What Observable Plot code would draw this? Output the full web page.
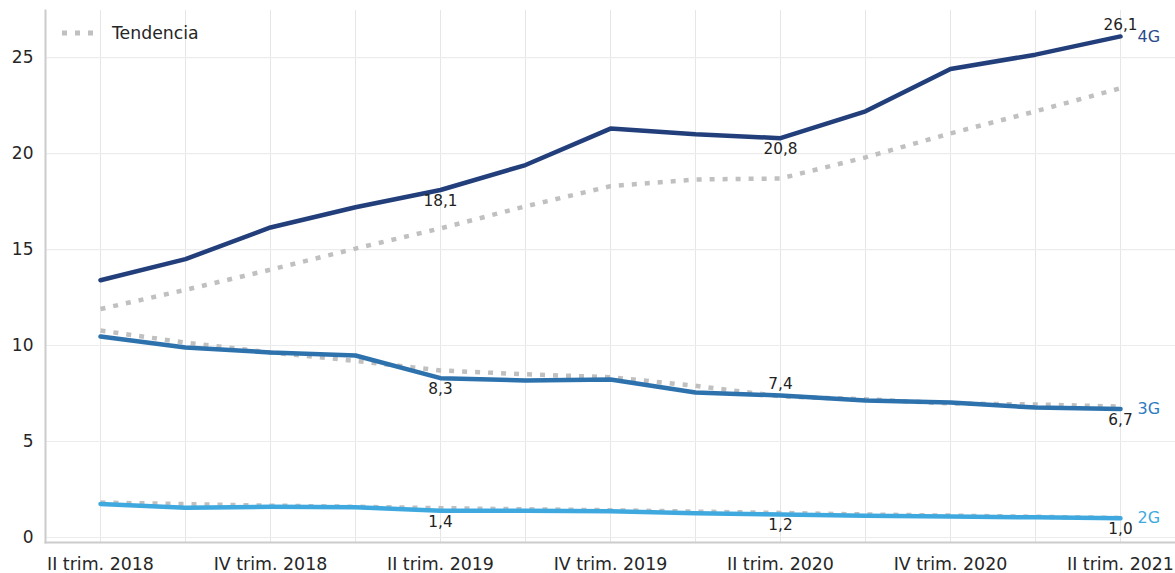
<!DOCTYPE html>
<html>
<head>
<meta charset="utf-8">
<script src="https://cdn.jsdelivr.net/npm/d3@7"></script>
<script src="https://cdn.jsdelivr.net/npm/@observablehq/plot@0.6"></script>
<style>
  html, body { margin: 0; padding: 0; background: #fff; }
  #wrap { position: relative; width: 1175px; height: 573px; font-family: "DejaVu Sans", sans-serif; }
  #legend { position: absolute; left: 62px; top: 23px; display: flex; align-items: center; font-size: 17.3px; color: #262626; }
  #legend svg { margin-right: 14px; }
</style>
</head>
<body>
<div id="wrap">
  <div id="chart"></div>
  <div id="legend"><svg width="36" height="10"><line x1="0" y1="5" x2="36" y2="5" stroke="#c0c0c0" stroke-width="5" stroke-dasharray="5,8"/></svg><span>Tendencia</span></div>
</div>
<script>
const quarters = ["II trim. 2018","III trim. 2018","IV trim. 2018","I trim. 2019","II trim. 2019","III trim. 2019","IV trim. 2019","I trim. 2020","II trim. 2020","III trim. 2020","IV trim. 2020","I trim. 2021","II trim. 2021"];
const tickLabels = ["II trim. 2018","IV trim. 2018","II trim. 2019","IV trim. 2019","II trim. 2020","IV trim. 2020","II trim. 2021"];
const yTicks = [0, 5, 10, 15, 20, 25];

const series = ["4G", "3G", "2G"];
const values4G = [13.4, 14.5, 16.15, 17.2, 18.1, 19.4, 21.3, 21.0, 20.8, 22.2, 24.4, 25.15, 26.1];
const values3G = [10.47, 9.9, 9.64, 9.48, 8.3, 8.18, 8.23, 7.55, 7.4, 7.14, 7.03, 6.77, 6.7];
const values2G = [1.75, 1.55, 1.6, 1.58, 1.4, 1.4, 1.37, 1.27, 1.2, 1.13, 1.1, 1.05, 1.0];
const trend4G = [11.9, 12.9, 13.95, 15.05, 16.1, 17.25, 18.3, 18.65, 18.7, 19.8, 21.05, 22.2, 23.4];
const trend3G = [10.78, 10.15, 9.64, 9.2, 8.7, 8.5, 8.35, 7.9, 7.35, 7.2, 6.98, 6.93, 6.82];
const trend2G = [1.82, 1.74, 1.66, 1.6, 1.53, 1.47, 1.42, 1.35, 1.28, 1.2, 1.14, 1.08, 1.02];
const colors = {"4G": "#223f7b", "3G": "#2e72ad", "2G": "#3fa9df"};
const labelColors = {"4G": "#2b4a8c", "3G": "#2f7bbf", "2G": "#3fa9df"};
const labelIdx = [4, 8, 12];
// annotation side: 1 = below line, -1 = above line
const labelSide = {"4G": [1, 1, -1], "3G": [1, -1, 1], "2G": [1, 1, 1]};

const valuesBy = {"4G": values4G, "3G": values3G, "2G": values2G};
const trendBy = {"4G": trend4G, "3G": trend3G, "2G": trend2G};

const rows = [], trendRows = [], annRows = [], endRows = [];
for (const s of series) {
  quarters.forEach((q, i) => {
    rows.push({s, q, v: valuesBy[s][i]});
    trendRows.push({s, q, v: trendBy[s][i]});
  });
  labelIdx.forEach((i, k) => {
    annRows.push({s, q: quarters[i], v: valuesBy[s][i], side: labelSide[s][k],
      text: valuesBy[s][i].toFixed(1).replace(".", ",")});
  });
  endRows.push({s, q: quarters[quarters.length - 1], v: valuesBy[s][quarters.length - 1]});
}

const chart = Plot.plot({
  width: 1175,
  height: 573,
  marginLeft: 45,
  marginRight: 0,
  marginTop: 10,
  marginBottom: 31,
  style: {fontFamily: "DejaVu Sans, sans-serif", fontSize: "17px", color: "#262626", background: "#fff"},
  x: {type: "point", domain: quarters, padding: 0.615, label: null},
  y: {domain: [-0.26, 27.45], label: null},
  marks: [
    Plot.gridX(quarters, {stroke: "#e6e6e6", strokeOpacity: 1, strokeWidth: 1}),
    Plot.gridY(yTicks, {stroke: "#ececec", strokeOpacity: 1, strokeWidth: 1.2}),
    Plot.axisX(tickLabels, {tickSize: 0, tickPadding: 15, fontSize: 17.4, fill: "#262626", label: null}),
    Plot.axisY(yTicks, {tickSize: 0, tickPadding: 12, fontSize: 17, fill: "#262626", label: null}),
    Plot.frame({anchor: "left", stroke: "#cccccc", strokeWidth: 2}),
    Plot.frame({anchor: "bottom", stroke: "#cccccc", strokeWidth: 2}),
    Plot.line(trendRows, {x: "q", y: "v", z: "s", stroke: "#c0c0c0", strokeWidth: 4.5, strokeDasharray: "5,8", strokeLinecap: "butt"}),
    Plot.line(rows, {x: "q", y: "v", z: "s", stroke: d => colors[d.s], strokeWidth: 4.5, strokeLinejoin: "round", strokeLinecap: "round"}),
    Plot.text(annRows.filter(d => d.side > 0), {x: "q", y: "v", text: "text", dy: 11, fontSize: 15.3, fill: "#222", textAnchor: "middle", lineAnchor: "middle"}),
    Plot.text(annRows.filter(d => d.side < 0), {x: "q", y: "v", text: "text", dy: -11, fontSize: 15.3, fill: "#222", textAnchor: "middle", lineAnchor: "middle"}),
    Plot.text(endRows, {x: "q", y: "v", text: "s", dx: 17, fontSize: 16, fill: d => labelColors[d.s], textAnchor: "start", lineAnchor: "middle"})
  ]
});
chart.style.overflow = "visible";
document.getElementById("chart").appendChild(chart);
</script>
</body>
</html>
